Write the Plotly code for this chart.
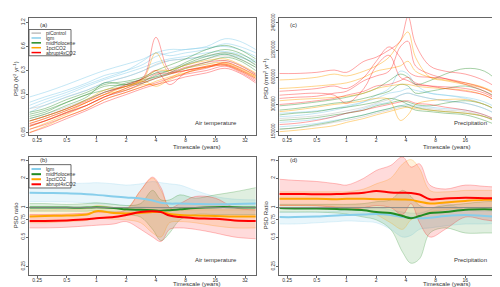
import plotly.graph_objects as go

# ---------------- data ----------------
TICK_X = [0.25, 0.5, 1, 2, 4, 8, 16, 32]
TICK_X_TEXT = ["0.25", "0.5", "1", "2", "4", "8", "16", "32"]
TICK_A = [0.05, 0.15, 0.3, 0.6, 1.2]
TICK_A_TEXT = ["0.05", "0.15", "0.3", "0.6", "1.2"]
TICK_C = [150000, 300000, 600000, 1200000, 2400000]
TICK_C_TEXT = ["150000", "300000", "600000", "1200000", "2400000"]
TICK_R = [0.25, 0.5, 0.75, 1, 2, 3]
TICK_R_TEXT = ["0.25", "0.5", "0.75", "1", "2", "3"]

# Panel (a): air temperature PSD per model
XA = [0.21, 0.3, 0.5, 0.8, 1.2, 2, 3, 4, 5.5, 8, 13, 20, 28, 41]
AT_PI = [
    [0.10, 0.11, 0.14, 0.17, 0.21, 0.25, 0.30, 0.36, 0.40, 0.42, 0.46, 0.50, 0.45, 0.36],
    [0.075, 0.085, 0.105, 0.13, 0.16, 0.20, 0.24, 0.28, 0.32, 0.36, 0.42, 0.46, 0.42, 0.33],
    [0.06, 0.07, 0.09, 0.11, 0.14, 0.17, 0.21, 0.25, 0.28, 0.32, 0.36, 0.40, 0.35, 0.27],
]
AT_LGM = [
    [0.14, 0.16, 0.20, 0.25, 0.30, 0.36, 0.42, 0.50, 0.55, 0.55, 0.60, 0.75, 0.70, 0.55],
    [0.12, 0.14, 0.17, 0.21, 0.26, 0.30, 0.36, 0.45, 0.50, 0.55, 0.58, 0.60, 0.55, 0.45],
    [0.10, 0.12, 0.15, 0.19, 0.23, 0.28, 0.33, 0.38, 0.42, 0.45, 0.50, 0.52, 0.48, 0.40],
    [0.11, 0.13, 0.16, 0.20, 0.24, 0.30, 0.40, 0.50, 0.46, 0.50, 0.55, 0.65, 0.60, 0.50],
    [0.09, 0.11, 0.14, 0.17, 0.21, 0.25, 0.30, 0.35, 0.40, 0.42, 0.45, 0.48, 0.44, 0.38],
]
AT_MID = [
    [0.09, 0.10, 0.13, 0.16, 0.20, 0.22, 0.25, 0.30, 0.35, 0.42, 0.55, 0.62, 0.55, 0.42],
    [0.08, 0.09, 0.12, 0.15, 0.19, 0.20, 0.24, 0.28, 0.30, 0.38, 0.48, 0.55, 0.50, 0.38],
    [0.075, 0.085, 0.11, 0.14, 0.21, 0.20, 0.22, 0.26, 0.30, 0.35, 0.42, 0.48, 0.42, 0.33],
    [0.07, 0.08, 0.10, 0.13, 0.16, 0.19, 0.21, 0.24, 0.27, 0.32, 0.38, 0.44, 0.40, 0.30],
    [0.085, 0.095, 0.12, 0.15, 0.17, 0.21, 0.23, 0.25, 0.28, 0.36, 0.45, 0.50, 0.46, 0.35],
]
AT_PCT = [
    [0.07, 0.08, 0.10, 0.13, 0.17, 0.19, 0.24, 0.50, 0.28, 0.32, 0.36, 0.38, 0.33, 0.26],
    [0.06, 0.07, 0.09, 0.12, 0.15, 0.17, 0.20, 0.20, 0.24, 0.30, 0.33, 0.35, 0.30, 0.24],
    [0.055, 0.065, 0.085, 0.11, 0.14, 0.18, 0.22, 0.19, 0.23, 0.28, 0.34, 0.36, 0.31, 0.25],
    [0.05, 0.06, 0.08, 0.10, 0.13, 0.16, 0.19, 0.22, 0.25, 0.28, 0.33, 0.37, 0.32, 0.25],
    [0.065, 0.075, 0.095, 0.12, 0.15, 0.19, 0.23, 0.30, 0.30, 0.35, 0.40, 0.42, 0.36, 0.28],
]
AT_ABR = [
    [0.065, 0.075, 0.095, 0.12, 0.15, 0.20, 0.25, 0.78, 0.30, 0.33, 0.38, 0.40, 0.35, 0.27],
    [0.06, 0.07, 0.09, 0.11, 0.14, 0.17, 0.21, 0.24, 0.27, 0.30, 0.34, 0.36, 0.31, 0.24],
    [0.055, 0.063, 0.08, 0.10, 0.13, 0.16, 0.19, 0.21, 0.24, 0.27, 0.30, 0.34, 0.29, 0.22],
    [0.05, 0.058, 0.075, 0.095, 0.12, 0.15, 0.18, 0.20, 0.22, 0.25, 0.28, 0.32, 0.28, 0.21],
    [0.07, 0.08, 0.10, 0.125, 0.16, 0.19, 0.24, 0.30, 0.20, 0.28, 0.32, 0.38, 0.33, 0.26],
    [0.062, 0.07, 0.088, 0.11, 0.14, 0.18, 0.22, 0.27, 0.28, 0.30, 0.33, 0.35, 0.30, 0.23],
]

# Panel (c): precipitation PSD per model
XC = [0.21, 0.3, 0.5, 0.75, 1, 1.5, 2, 2.7, 3.5, 4.2, 5, 7, 10, 16, 25, 41]
PR_PI = [
    [210000, 215000, 225000, 240000, 255000, 280000, 310000, 340000, 380000, 400000, 380000, 350000, 330000, 310000, 270000, 210000],
    [160000, 165000, 175000, 190000, 200000, 220000, 240000, 260000, 280000, 290000, 280000, 270000, 260000, 250000, 220000, 170000],
]
PR_LGM = [
    [220000, 225000, 240000, 260000, 280000, 320000, 380000, 450000, 700000, 650000, 500000, 400000, 380000, 360000, 320000, 240000],
    [190000, 195000, 205000, 220000, 240000, 270000, 300000, 320000, 380000, 400000, 380000, 350000, 330000, 310000, 270000, 200000],
    [170000, 175000, 185000, 200000, 210000, 230000, 250000, 270000, 290000, 300000, 290000, 280000, 270000, 260000, 230000, 175000],
    [240000, 245000, 255000, 270000, 290000, 320000, 350000, 400000, 420000, 450000, 430000, 400000, 380000, 350000, 300000, 220000],
]
PR_MID = [
    [290000, 300000, 320000, 340000, 360000, 400000, 450000, 550000, 650000, 600000, 500000, 550000, 650000, 750000, 700000, 450000],
    [260000, 270000, 290000, 310000, 320000, 350000, 380000, 420000, 500000, 480000, 400000, 420000, 450000, 480000, 420000, 320000],
    [230000, 240000, 250000, 270000, 280000, 300000, 320000, 350000, 330000, 300000, 280000, 260000, 250000, 240000, 220000, 180000],
    [200000, 205000, 215000, 230000, 240000, 260000, 290000, 310000, 330000, 320000, 300000, 290000, 310000, 330000, 300000, 230000],
    [160000, 165000, 180000, 195000, 210000, 230000, 250000, 270000, 290000, 280000, 260000, 250000, 240000, 230000, 200000, 160000],
]
PR_PCT = [
    [560000, 570000, 600000, 650000, 620000, 700000, 800000, 1000000, 1500000, 1900000, 1000000, 600000, 550000, 500000, 450000, 350000],
    [450000, 460000, 480000, 500000, 520000, 600000, 700000, 750000, 800000, 900000, 700000, 600000, 560000, 520000, 460000, 350000],
    [330000, 340000, 350000, 360000, 370000, 400000, 450000, 480000, 500000, 500000, 480000, 460000, 450000, 430000, 380000, 290000],
    [250000, 260000, 280000, 300000, 310000, 330000, 350000, 340000, 200000, 230000, 300000, 330000, 340000, 340000, 300000, 230000],
    [150000, 155000, 165000, 175000, 190000, 210000, 230000, 250000, 270000, 280000, 270000, 260000, 250000, 240000, 220000, 170000],
]
PR_ABR = [
    [660000, 660000, 680000, 720000, 680000, 900000, 1000000, 1200000, 1500000, 2800000, 1400000, 800000, 700000, 650000, 550000, 400000],
    [420000, 430000, 450000, 480000, 450000, 600000, 900000, 1300000, 1000000, 700000, 620000, 600000, 580000, 520000, 450000, 330000],
    [380000, 390000, 400000, 380000, 310000, 450000, 800000, 1050000, 600000, 550000, 500000, 480000, 470000, 450000, 400000, 300000],
    [350000, 360000, 370000, 400000, 420000, 550000, 620000, 700000, 1300000, 1500000, 800000, 650000, 580000, 500000, 420000, 300000],
    [300000, 310000, 330000, 350000, 380000, 420000, 480000, 500000, 550000, 600000, 520000, 480000, 450000, 420000, 380000, 280000],
    [180000, 185000, 200000, 220000, 240000, 260000, 280000, 300000, 320000, 330000, 310000, 300000, 280000, 260000, 230000, 180000],
]

# Panels (b) and (d): PSD ratio (mean, lower, upper)
XR = [0.21, 0.3, 0.5, 0.8, 1, 1.5, 2, 2.8, 3.7, 4.5, 5.5, 7, 10, 16, 25, 41]
ATR_LGM = [1.42, 1.41, 1.40, 1.37, 1.35, 1.30, 1.27, 1.24, 1.18, 1.12, 1.10, 1.10, 1.09, 1.08, 1.09, 1.10]
ATR_LGM_LO = [1.15, 1.15, 1.14, 1.12, 1.10, 1.08, 1.05, 1.02, 1.00, 0.98, 0.98, 1.00, 1.00, 1.00, 1.00, 1.00]
ATR_LGM_HI = [1.75, 1.75, 1.76, 1.78, 1.80, 1.75, 1.70, 1.75, 1.85, 1.80, 1.75, 1.70, 1.50, 1.30, 1.22, 1.20]
ATR_MID = [1.00, 1.00, 1.00, 1.00, 1.01, 0.99, 0.96, 0.95, 0.94, 0.93, 0.94, 0.96, 0.99, 1.01, 1.01, 1.00]
ATR_MID_LO = [0.92, 0.92, 0.92, 0.92, 0.93, 0.90, 0.85, 0.80, 0.60, 0.46, 0.55, 0.75, 0.85, 0.85, 0.85, 0.85]
ATR_MID_HI = [1.10, 1.10, 1.08, 1.10, 1.12, 1.08, 1.05, 1.10, 1.50, 1.20, 1.20, 1.35, 1.25, 1.35, 1.45, 1.60]
ATR_PCT = [0.81, 0.82, 0.83, 0.85, 0.92, 0.88, 0.87, 0.88, 0.90, 0.90, 0.86, 0.84, 0.83, 0.82, 0.81, 0.81]
ATR_PCT_LO = [0.70, 0.70, 0.72, 0.74, 0.78, 0.76, 0.75, 0.70, 0.55, 0.50, 0.70, 0.72, 0.70, 0.65, 0.62, 0.62]
ATR_PCT_HI = [0.95, 0.95, 0.96, 0.98, 1.05, 1.00, 0.98, 1.50, 2.00, 1.50, 1.00, 0.95, 0.95, 0.95, 0.95, 0.95]
ATR_ABR = [0.73, 0.73, 0.74, 0.76, 0.78, 0.80, 0.84, 0.90, 0.92, 0.90, 0.83, 0.80, 0.78, 0.77, 0.74, 0.73]
ATR_ABR_LO = [0.62, 0.62, 0.63, 0.65, 0.66, 0.68, 0.72, 0.60, 0.50, 0.45, 0.60, 0.62, 0.60, 0.55, 0.50, 0.48]
ATR_ABR_HI = [0.85, 0.85, 0.86, 0.88, 0.90, 0.90, 0.95, 1.50, 2.05, 1.60, 1.00, 1.10, 1.30, 1.25, 1.00, 0.95]

PRR_LGM = [0.80, 0.80, 0.81, 0.83, 0.84, 0.85, 0.86, 0.84, 0.80, 0.79, 0.78, 0.79, 0.82, 0.84, 0.82, 0.80]
PRR_LGM_LO = [0.68, 0.68, 0.70, 0.72, 0.73, 0.72, 0.70, 0.60, 0.50, 0.52, 0.60, 0.62, 0.65, 0.68, 0.68, 0.70]
PRR_LGM_HI = [0.90, 0.90, 0.90, 0.92, 0.95, 0.97, 1.00, 0.95, 0.90, 0.88, 0.88, 0.95, 1.10, 0.95, 0.92, 0.90]
PRR_MID = [0.99, 0.98, 0.98, 0.97, 0.96, 0.94, 0.90, 0.88, 0.82, 0.78, 0.82, 0.88, 0.90, 0.95, 0.96, 0.95]
PRR_MID_LO = [0.90, 0.90, 0.90, 0.88, 0.86, 0.80, 0.75, 0.60, 0.35, 0.27, 0.30, 0.55, 0.62, 0.55, 0.55, 0.55]
PRR_MID_HI = [1.08, 1.08, 1.08, 1.08, 1.08, 1.10, 1.15, 1.20, 1.50, 1.30, 1.05, 1.00, 1.05, 1.10, 1.15, 1.15]
PRR_PCT = [1.23, 1.23, 1.23, 1.22, 1.23, 1.23, 1.22, 1.22, 1.21, 1.20, 1.15, 1.10, 1.13, 1.17, 1.20, 1.21]
PRR_PCT_LO = [1.05, 1.05, 1.05, 1.02, 1.00, 0.95, 0.85, 0.70, 0.60, 0.75, 0.80, 0.90, 0.95, 1.00, 1.00, 1.00]
PRR_PCT_HI = [1.45, 1.45, 1.45, 1.45, 1.45, 1.55, 1.75, 2.00, 2.80, 3.10, 2.50, 1.50, 1.45, 1.50, 1.50, 1.50]
PRR_ABR = [1.38, 1.38, 1.37, 1.38, 1.39, 1.42, 1.48, 1.43, 1.42, 1.41, 1.36, 1.22, 1.24, 1.26, 1.25, 1.24]
PRR_ABR_LO = [1.05, 1.05, 1.04, 1.00, 0.95, 1.00, 1.05, 1.00, 0.85, 1.10, 0.70, 0.50, 0.60, 0.80, 0.75, 0.70]
PRR_ABR_HI = [1.95, 1.90, 1.85, 1.75, 1.70, 2.00, 2.40, 2.70, 3.30, 2.60, 2.80, 1.70, 1.55, 1.70, 1.65, 1.60]

# ---------------- styling ----------------
RGB = {
    "piControl": (190, 190, 190),
    "lgm": (135, 206, 235),
    "midHolocene": (34, 139, 34),
    "1pctCO2": (255, 165, 0),
    "abrupt4xCO2": (255, 0, 0),
}
ALPHA = {"piControl": 0.55, "lgm": 0.55, "midHolocene": 0.45, "1pctCO2": 0.5, "abrupt4xCO2": 0.4}


def rgba(name, a):
    r, g, b = RGB[name]
    return f"rgba({r},{g},{b},{a})"


W, H = 500, 287
FONT = "Liberation Sans, Arial, sans-serif"

fig = go.Figure()

# individual model lines (a) and (c)
model_sets = [
    ("x", "y", XA, [("piControl", AT_PI), ("lgm", AT_LGM), ("midHolocene", AT_MID),
                    ("1pctCO2", AT_PCT), ("abrupt4xCO2", AT_ABR)]),
    ("x3", "y3", XC, [("piControl", PR_PI), ("lgm", PR_LGM), ("midHolocene", PR_MID),
                      ("1pctCO2", PR_PCT), ("abrupt4xCO2", PR_ABR)]),
]
for xa, ya, xs, groups in model_sets:
    for name, lines in groups:
        for vals in lines:
            fig.add_trace(go.Scatter(
                x=xs, y=vals, xaxis=xa, yaxis=ya, mode="lines",
                line=dict(color=rgba(name, ALPHA[name]), width=0.9, shape="spline", smoothing=1.0),
                showlegend=False, hoverinfo="skip"))

# ratio bands and means (b) and (d)
ratio_sets = [
    ("x2", "y2", [("lgm", ATR_LGM, ATR_LGM_LO, ATR_LGM_HI), ("midHolocene", ATR_MID, ATR_MID_LO, ATR_MID_HI),
                  ("1pctCO2", ATR_PCT, ATR_PCT_LO, ATR_PCT_HI), ("abrupt4xCO2", ATR_ABR, ATR_ABR_LO, ATR_ABR_HI)]),
    ("x4", "y4", [("lgm", PRR_LGM, PRR_LGM_LO, PRR_LGM_HI), ("midHolocene", PRR_MID, PRR_MID_LO, PRR_MID_HI),
                  ("1pctCO2", PRR_PCT, PRR_PCT_LO, PRR_PCT_HI), ("abrupt4xCO2", PRR_ABR, PRR_ABR_LO, PRR_ABR_HI)]),
]
for xa, ya, groups in ratio_sets:
    for name, mean, lo, hi in groups:
        fa = 0.14 if name != "lgm" else 0.18
        fig.add_trace(go.Scatter(
            x=XR, y=lo, xaxis=xa, yaxis=ya, mode="lines",
            line=dict(color=rgba(name, 0.35), width=0.7, shape="spline"),
            showlegend=False, hoverinfo="skip"))
        fig.add_trace(go.Scatter(
            x=XR, y=hi, xaxis=xa, yaxis=ya, mode="lines", fill="tonexty",
            fillcolor=rgba(name, fa),
            line=dict(color=rgba(name, 0.35), width=0.7, shape="spline"),
            showlegend=False, hoverinfo="skip"))
    for name, mean, lo, hi in groups:
        fig.add_trace(go.Scatter(
            x=XR, y=mean, xaxis=xa, yaxis=ya, mode="lines",
            line=dict(color=rgba(name, 1.0), width=2, shape="spline"),
            showlegend=False, hoverinfo="skip"))


def px2x(px):
    return px / W


def px2y(py):
    return 1 - py / H


dom_x_left = [px2x(21), px2x(248)]
dom_x_right = [px2x(271), px2x(498)]
dom_y_top = [px2y(126), px2y(5)]
dom_y_bot = [px2y(269), px2y(148)]

axis_common = dict(
    showline=True, mirror=True, linecolor="#666666", linewidth=1,
    ticks="outside", ticklen=2, tickwidth=1, tickcolor="#666666",
    showgrid=False, zeroline=False, ticklabeloverflow="allow",
    tickfont=dict(family=FONT, size=5, color="#333333"),
)
xr = [-0.684, 1.616]


def xaxis(domain, anchor):
    return dict(axis_common, type="log", domain=domain, anchor=anchor, range=xr,
                tickvals=TICK_X, ticktext=TICK_X_TEXT, ticklabelstandoff=-2)


def yaxis(domain, anchor, rng, tv, tt, size=5):
    return dict(axis_common, type="log", domain=domain, anchor=anchor, range=rng,
                tickvals=tv, ticktext=tt, tickangle=-90, ticklabelstandoff=-1,
                tickfont=dict(family=FONT, size=size, color="#333333"))


fig.update_layout(
    width=W, height=H, margin=dict(l=0, r=0, t=0, b=0),
    paper_bgcolor="white", plot_bgcolor="white", showlegend=False,
    font=dict(family=FONT, size=6, color="#333333"),
    xaxis=xaxis(dom_x_left, "y"),
    yaxis=yaxis(dom_y_top, "x", [-1.337, 0.137], TICK_A, TICK_A_TEXT),
    xaxis2=xaxis(dom_x_left, "y2"),
    yaxis2=yaxis(dom_y_bot, "x2", [-0.684, 0.519], TICK_R, TICK_R_TEXT),
    xaxis3=xaxis(dom_x_right, "y3"),
    yaxis3=yaxis(dom_y_top, "x3", [5.134, 6.435], TICK_C, TICK_C_TEXT, size=4.5),
    xaxis4=xaxis(dom_x_right, "y4"),
    yaxis4=yaxis(dom_y_bot, "x4", [-0.684, 0.519], TICK_R, TICK_R_TEXT),
)

shapes = []
# reference line at ratio 1
for xa, ya in [("x2", "y2"), ("x4", "y4")]:
    shapes.append(dict(type="line", xref=f"{xa} domain", yref=ya, x0=0, x1=1, y0=1, y1=1,
                       line=dict(color="#888888", width=1), layer="above"))

annotations = []


def text(xpx, ypx, s, size=6, angle=0, xanchor="center"):
    annotations.append(dict(x=px2x(xpx), y=px2y(ypx), xref="paper", yref="paper", text=s,
                            showarrow=False, textangle=angle, xanchor=xanchor, yanchor="middle",
                            font=dict(family=FONT, size=size, color="#333333")))


# panel labels
text(35, 12, "(a)")
text(285, 12, "(c)")
text(35, 151, "(b)")
text(285, 151, "(d)")
# variable labels
text(208, 113, "Air temperature")
text(462, 113, "Precipitation")
text(208, 254, "Air temperature")
text(462, 254, "Precipitation")
# axis titles
for xo in (0, 250):
    text(xo + 188, 137.5, "Timescale (years)")
    text(xo + 188, 279, "Timescale (years)")
text(8, 68, "PSD (K<sup>2</sup> yr<sup>-1</sup>)", angle=-90)
text(258, 68, "PSD (mm<sup>2</sup> yr<sup>-1</sup>)", angle=-90)
text(8, 208, "PSD ratio", angle=-90)
text(258, 208, "PSD Ratio", angle=-90)


# manual legends
def legend(x0, y0, x1, y1, entries, ys, lw):
    shapes.append(dict(type="rect", xref="paper", yref="paper", x0=px2x(x0), x1=px2x(x1),
                       y0=px2y(y1), y1=px2y(y0), line=dict(color="#444444", width=0.8),
                       fillcolor="white", layer="above"))
    for name, yy in zip(entries, ys):
        shapes.append(dict(type="line", xref="paper", yref="paper", x0=px2x(x0 + 2.5), x1=px2x(x0 + 12),
                           y0=px2y(yy), y1=px2y(yy), line=dict(color=rgba(name, 1.0), width=lw),
                           layer="above"))
        text(x0 + 14.5, yy, name, size=5, xanchor="left")


legend(21, 17, 63, 44, ["piControl", "lgm", "midHolocene", "1pctCO2", "abrupt4xCO2"],
       [20.7, 25.7, 30.7, 35.7, 40.7], 1.5)
legend(21, 156, 63, 180, ["lgm", "midHolocene", "1pctCO2", "abrupt4xCO2"],
       [160.5, 165.8, 171.0, 176.2], 2)

fig.update_layout(shapes=shapes, annotations=annotations)
fig.write_html("out.html")
